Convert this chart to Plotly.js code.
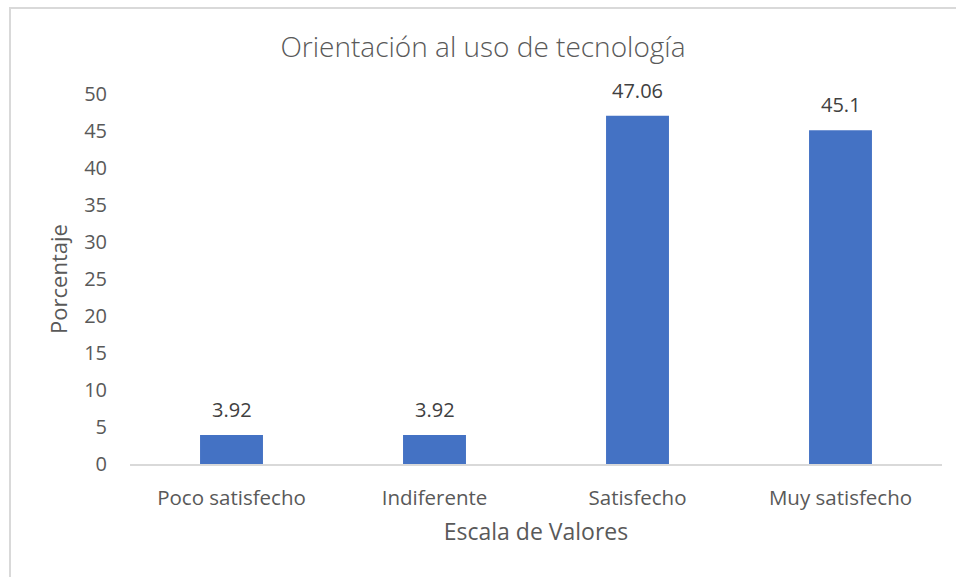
<!DOCTYPE html>
<html><head><meta charset="utf-8">
<script src="https://cdn.plot.ly/plotly-3.0.1.min.js"></script>
<style>
html,body{margin:0;padding:0;background:#fff;}
#frame{position:absolute;left:9px;top:7px;width:1000px;height:700px;border-left:2px solid #d9d9d9;border-top:2px solid #d9d9d9;box-sizing:border-box;}
#chart{position:absolute;left:0;top:0;width:956px;height:577px;}
</style></head>
<body>
<div id="frame"></div>
<div id="chart"></div>
<script>
const categories = ["Poco satisfecho", "Indiferente", "Satisfecho", "Muy satisfecho"];
const values = [3.92, 3.92, 47.06, 45.1];
const valueLabels = ["3.92", "3.92", "47.06", "45.1"];
const yTicks = [0, 5, 10, 15, 20, 25, 30, 35, 40, 45, 50];

const font = "Open Sans, Liberation Sans, sans-serif";
const annotations = categories.map((c, i) => ({
  x: c, y: values[i], xref: "x", yref: "y",
  text: valueLabels[i], showarrow: false,
  yanchor: "bottom", yshift: 10,
  font: {family: font, size: 20, color: "#404040"}
}));

Plotly.newPlot("chart", [{
  type: "bar",
  x: categories,
  y: values,
  marker: {color: "#4472C4"},
  hoverinfo: "none"
}], {
  width: 956, height: 577,
  paper_bgcolor: "rgba(0,0,0,0)",
  plot_bgcolor: "rgba(0,0,0,0)",
  margin: {l: 130, r: 14, t: 94, b: 113},
  bargap: 0.69,
  showlegend: false,
  annotations: annotations,
  title: {text: "Orientación al uso de tecnología", font: {family: font, size: 28, color: "#595959", weight: 300},
          x: 483/956, xanchor: "center", y: 1 - 47/577, yanchor: "middle", xref: "container", yref: "container"},
  xaxis: {
    showgrid: false, zeroline: false, showline: true, linecolor: "#d9d9d9", linewidth: 1.5,
    tickfont: {family: font, size: 20.5, color: "#595959"},
    ticks: "", ticklabelstandoff: 15,
    title: {text: "Escala de Valores", font: {family: font, size: 23, color: "#595959"}, standoff: 14}
  },
  yaxis: {
    range: [0, 50], tickvals: yTicks, ticktext: yTicks.map(String),
    showgrid: false, zeroline: false, showline: false,
    tickfont: {family: font, size: 20, color: "#595959"},
    ticks: "", ticklabelstandoff: 22,
    title: {text: "Porcentaje", font: {family: font, size: 22, color: "#595959"}, standoff: 10}
  }
}, {displayModeBar: false, staticPlot: true});
</script>
</body></html>
